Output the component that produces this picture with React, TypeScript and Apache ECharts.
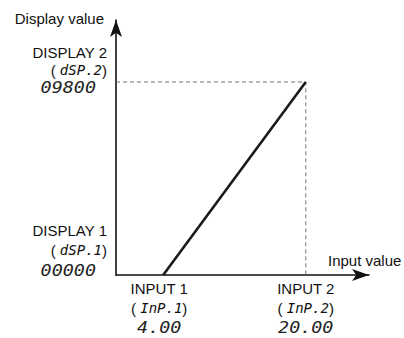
import React, { useEffect, useRef } from "react";
import * as echarts from "echarts";

const inputValues = [4.0, 20.0];
const displayValues = [0, 9800];
const inputLabels = ["INPUT 1", "INPUT 2"];
const inputCodes = ["InP.1", "InP.2"];
const inputReadings = ["4.00", "20.00"];
const displayLabels = ["DISPLAY 1", "DISPLAY 2"];
const displayCodes = ["dSP.1", "dSP.2"];
const displayReadings = ["00000", "09800"];
const xRange = [-1.3, 27.1];
const yRange = [0, 12950];
const xAxisName = "Input value";
const yAxisName = "Display value";

const FONT = "Liberation Sans, Arial, Helvetica, sans-serif";
const SEG = "DejaVu Sans Mono, monospace";

export default function App() {
  const ref = useRef<HTMLDivElement>(null);
  useEffect(() => {
    if (!ref.current) return;
    const chart = echarts.init(ref.current, undefined, { renderer: "svg" });
    const axisCommon = {
      type: "value" as const,
      axisLine: {
        show: true,
        onZero: false,
        symbol: ["none", "arrow"],
        symbolSize: [9, 17],
        lineStyle: { color: "#111", width: 1.6 },
      },
      axisTick: { show: false },
      axisLabel: { show: false },
      splitLine: { show: false },
    };
    chart.setOption({
      animation: false,
      backgroundColor: "#fff",
      grid: { left: 116, top: 20, right: 35, bottom: 63 },
      xAxis: { ...axisCommon, min: xRange[0], max: xRange[1] },
      yAxis: { ...axisCommon, min: yRange[0], max: yRange[1] },
      series: [
        {
          type: "line",
          data: [
            [xRange[0], displayValues[1]],
            [inputValues[1], displayValues[1]],
            [inputValues[1], displayValues[0]],
          ],
          symbol: "none",
          lineStyle: { color: "#777", width: 1, type: [4, 3] },
          z: 1,
        },
        {
          type: "line",
          data: inputValues.map((v, i) => [v, displayValues[i]]),
          symbol: "none",
          lineStyle: { color: "#1a1a1a", width: 2.6 },
          z: 2,
        },
      ],
    });

    const px = (x: number, y: number) =>
      chart.convertToPixel({ gridIndex: 0 }, [x, y]) as number[];
    const origin = px(xRange[0], yRange[0]);
    const axisX = origin[0];
    const axisY = origin[1];
    const top = px(xRange[0], yRange[1])[1];
    const right = px(xRange[1], yRange[0])[0];

    const plain = { font: `15px ${FONT}`, fill: "#111" };
    const rich = {
      p: { fontFamily: FONT, fontSize: 15, color: "#111" },
      s: { fontFamily: SEG, fontSize: 14, fontStyle: "italic", color: "#333" },
    };
    const elements: any[] = [];
    const txt = (x: number, y: number, text: string, align: string, seg = false, richText = false) => {
      elements.push({
        type: "text",
        x,
        y,
        scaleX: seg ? 1.15 : 1,
        style: richText
          ? { text, rich, textAlign: align, textVerticalAlign: "middle", font: `15px ${FONT}`, fill: "#111" }
          : seg
          ? { text, font: `italic 16px ${SEG}`, fill: "#222", textAlign: align, textVerticalAlign: "middle" }
          : { ...plain, text, textAlign: align, textVerticalAlign: "middle" },
      });
    };

    // y-axis labels
    const yOffsets = [
      [-45, -25, -5],
      [-30, -12, 5],
    ];
    displayValues.forEach((v, i) => {
      const y = px(xRange[0], v)[1];
      txt(axisX - 9, y + yOffsets[i][0], displayLabels[i], "right");
      txt(axisX - 9, y + yOffsets[i][1], `{p|( }{s|${displayCodes[i]}}{p|)}`, "right", false, true);
      txt(axisX - 20, y + yOffsets[i][2], displayReadings[i], "right", true);
    });
    // x-axis labels
    const xOffsets = [-4, 0];
    inputValues.forEach((v, i) => {
      const x = px(v, yRange[0])[0] + xOffsets[i];
      txt(x, axisY + 13, inputLabels[i], "center");
      txt(x, axisY + 33, `{p|( }{s|${inputCodes[i]}}{p|)}`, "center", false, true);
      txt(x, axisY + 52, inputReadings[i], "center", true);
    });
    txt(axisX - 12, top - 2, yAxisName, "right");
    txt(right - 41, axisY - 15, xAxisName, "left");

    chart.setOption({ graphic: { elements } });
    return () => chart.dispose();
  }, []);
  return <div ref={ref} style={{ width: 404, height: 338, position: "absolute", left: 0, top: 0 }} />;
}
